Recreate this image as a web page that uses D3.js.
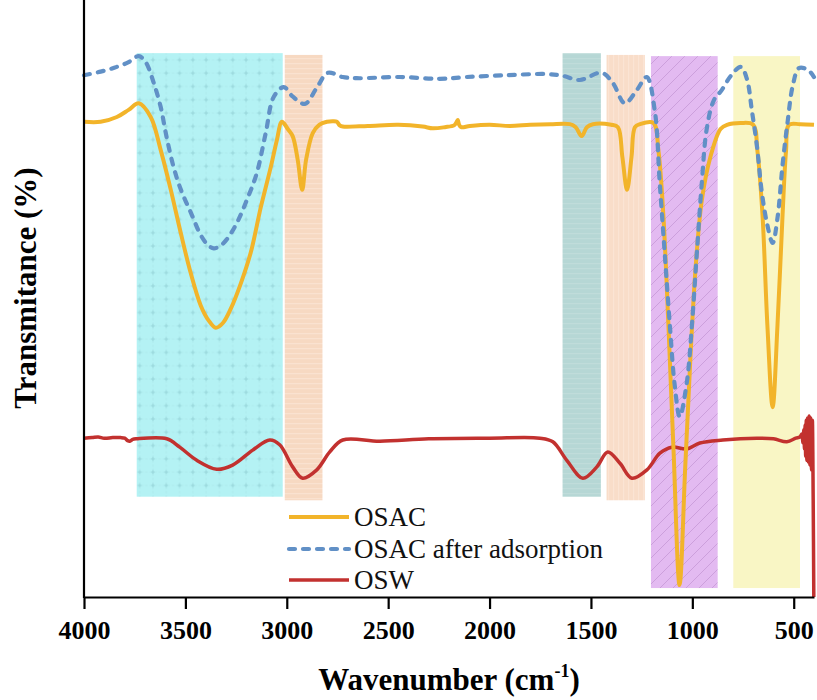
<!DOCTYPE html>
<html>
<head>
<meta charset="utf-8">
<script src="https://cdn.jsdelivr.net/npm/d3@7"></script>
<style>
  html, body { margin: 0; padding: 0; background: #fff; }
  svg { display: block; }
  .serif { font-family: "Liberation Serif", "Tinos", "Times New Roman", "DejaVu Serif", serif; }
</style>
</head>
<body>
<svg id="chart" width="817" height="700"></svg>
<script>
// FTIR spectra: wavenumber (cm-1) vs. transmittance (arbitrary offset %)
const osac = [
  [4000, 79.6], [3918, 79.6], [3838, 80.4], [3780, 81.6], [3730, 82.7], [3671, 80.4],
  [3622, 74.9], [3572, 68.2], [3523, 61.0], [3474, 54.3], [3424, 48.8], [3385, 46.3],
  [3350, 45.1], [3315, 45.9], [3276, 48.3], [3227, 52.5], [3177, 57.8], [3128, 65.3],
  [3079, 72.0], [3049, 76.5], [3024, 79.6], [2995, 78.4], [2971, 77.2], [2946, 73.2],
  [2924, 68.2], [2905, 73.2], [2872, 77.7], [2840, 79.1], [2802, 79.6], [2770, 79.7],
  [2753, 79.6], [2739, 79.0], [2724, 78.8], [2600, 78.9], [2450, 79.1], [2330, 78.8],
  [2280, 78.5], [2220, 78.7], [2175, 79.0], [2165, 79.4], [2157, 79.9], [2150, 79.1],
  [2140, 78.7], [2097, 78.9], [2000, 79.1], [1900, 78.9], [1800, 79.1], [1700, 79.2],
  [1604, 79.2], [1575, 78.7], [1546, 77.2], [1520, 78.7], [1490, 79.2], [1400, 79.1],
  [1367, 78.7], [1345, 73.7], [1322, 68.2], [1300, 73.7], [1283, 78.7], [1258, 79.2],
  [1192, 79.4], [1167, 74.7], [1143, 64.0], [1118, 45.6], [1093, 24.8], [1063, 2.0],
  [1035, 21.8], [1010, 39.7], [985, 54.6], [953, 66.5], [911, 73.7], [861, 78.4],
  [829, 79.1], [760, 79.4], [700, 79.1], [679, 74.7], [654, 64.0], [630, 45.6],
  [604, 31.8], [580, 45.6], [555, 64.0], [538, 74.7], [523, 79.1], [470, 79.2], [400, 79.1]
];

const osacAfter = [
  [4000, 87.4], [3918, 88.0], [3838, 88.8], [3780, 89.6], [3730, 90.6], [3696, 89.6],
  [3656, 86.1], [3622, 82.1], [3593, 77.1], [3558, 72.0], [3522, 68.2], [3472, 64.3],
  [3424, 60.6], [3390, 59.0], [3360, 58.4], [3325, 58.9], [3296, 59.9], [3247, 62.6],
  [3197, 66.5], [3148, 71.0], [3104, 77.7], [3064, 83.8], [3015, 85.4], [2970, 83.8],
  [2911, 82.6], [2852, 85.3], [2798, 87.8], [2724, 87.1], [2655, 86.9], [2443, 87.1],
  [2246, 86.8], [2113, 87.1], [1916, 87.4], [1718, 87.6], [1640, 87.3], [1555, 86.6],
  [1447, 87.8], [1392, 86.1], [1333, 82.7], [1274, 84.9], [1225, 87.1], [1185, 81.4],
  [1161, 69.5], [1136, 57.5], [1111, 45.6], [1087, 35.5], [1062, 30.2], [1027, 36.0],
  [1002, 45.6], [978, 57.5], [953, 69.5], [929, 78.4], [894, 83.2], [855, 84.9],
  [810, 87.3], [761, 88.8], [731, 86.8], [706, 81.4], [681, 75.4], [657, 67.7],
  [630, 62.3], [604, 59.3], [580, 63.5], [555, 72.4], [530, 79.6], [505, 85.6],
  [474, 88.6], [430, 88.3], [400, 87.1]
];

const osw = [
  [4000, 26.6], [3960, 26.7], [3930, 26.8], [3900, 26.6], [3858, 26.7], [3820, 26.7],
  [3799, 26.6], [3785, 26.2], [3774, 26.1], [3760, 26.4], [3740, 26.5], [3592, 26.5],
  [3528, 25.1], [3444, 22.9], [3346, 21.4], [3267, 22.1], [3168, 24.6], [3084, 26.3],
  [3035, 25.5], [2971, 21.8], [2922, 19.9], [2852, 21.3], [2788, 24.3], [2724, 26.3],
  [2541, 26.1], [2300, 26.5], [2000, 26.6], [1752, 26.6], [1688, 26.0], [1619, 22.9],
  [1540, 19.9], [1471, 21.8], [1417, 24.3], [1357, 22.4], [1298, 19.9], [1224, 21.3],
  [1160, 24.1], [1101, 25.1], [1027, 24.8], [963, 25.8], [850, 26.3], [682, 26.6],
  [600, 26.5], [534, 26.0], [490, 26.6], [470, 26.8], [460, 27.3], [455, 25.8],
  [450, 28.0], [447, 24.8], [444, 28.8], [441, 23.6], [438, 29.6], [435, 22.9],
  [432, 30.0], [428, 22.6], [424, 30.3], [420, 22.1], [416, 30.0], [412, 21.3],
  [408, 29.6], [404, 16.2], [401, 0]
];

// Highlighted absorption bands: [from, to] in cm-1 and vertical extent in transmittance units
const bandRanges = [[3740, 3020], [3010, 2824], [1640, 1451], [1423, 1234], [1204, 875], [798, 469]];
const bandTops = [91.1, 90.8, 91.1, 90.8, 90.6, 90.6];
const bandBottoms = [16.8, 16.2, 16.8, 16.2, 1.5, 1.5];

const xTicks = [4000, 3500, 3000, 2500, 2000, 1500, 1000, 500];
const seriesNames = ["OSAC", "OSAC after adsorption", "OSW"];

const svg = d3.select("#chart");
const W = 817, H = 700;
const m = { left: 84, right: 3, top: 0, bottom: 103 };
const plotBottom = H - m.bottom;

const x = d3.scaleLinear().domain([4000, 400]).range([m.left, W - m.right]);
const y = d3.scaleLinear().domain([0, 100]).range([plotBottom, m.top]);

// Fill patterns for the bands
const defs = svg.append("defs");

const pGrid = defs.append("pattern").attr("id", "pGrid")
  .attr("patternUnits", "userSpaceOnUse").attr("width", 13.3).attr("height", 13.3);
pGrid.append("rect").attr("width", 13.3).attr("height", 13.3).attr("fill", "#b4f2f4");
pGrid.append("path").attr("d", "M0,6.65H13.3M6.65,0V13.3")
  .attr("stroke", "#a9e6e9").attr("stroke-width", 0.6).attr("stroke-dasharray", "1.5,1.5");
pGrid.append("path").attr("d", "M4.6,6.65H8.7M6.65,4.6V8.7")
  .attr("stroke", "#98d6da").attr("stroke-width", 1);

const pHorizPeach = defs.append("pattern").attr("id", "pHorizPeach")
  .attr("patternUnits", "userSpaceOnUse").attr("width", 6).attr("height", 5);
pHorizPeach.append("rect").attr("width", 6).attr("height", 5).attr("fill", "#f7d9c2");
pHorizPeach.append("rect").attr("y", 3).attr("width", 6).attr("height", 1.3).attr("fill", "#fae2d0");

const pHorizTeal = defs.append("pattern").attr("id", "pHorizTeal")
  .attr("patternUnits", "userSpaceOnUse").attr("width", 6).attr("height", 5);
pHorizTeal.append("rect").attr("width", 6).attr("height", 5).attr("fill", "#b6d7d5");
pHorizTeal.append("rect").attr("y", 3).attr("width", 6).attr("height", 1.2).attr("fill", "#c0dcda");

const pVertPeach = defs.append("pattern").attr("id", "pVertPeach")
  .attr("patternUnits", "userSpaceOnUse").attr("width", 5).attr("height", 6);
pVertPeach.append("rect").attr("width", 5).attr("height", 6).attr("fill", "#f9ddc9");
pVertPeach.append("rect").attr("x", 3).attr("width", 1.2).attr("height", 6).attr("fill", "#fbe4d4");

const pDiag = defs.append("pattern").attr("id", "pDiag")
  .attr("patternUnits", "userSpaceOnUse").attr("width", 13).attr("height", 13);
pDiag.append("rect").attr("width", 13).attr("height", 13).attr("fill", "#e3baf1");
pDiag.append("path").attr("d", "M-3,3L3,-3M0,13L13,0M10,16L16,10")
  .attr("stroke", "#cc9fdc").attr("stroke-width", 1);

const bandFills = ["url(#pGrid)", "url(#pHorizPeach)", "url(#pHorizTeal)", "url(#pVertPeach)", "url(#pDiag)", "#f9f6c5"];

svg.append("g").selectAll("rect")
  .data(bandRanges)
  .join("rect")
  .attr("x", d => x(d[0]))
  .attr("width", d => x(d[1]) - x(d[0]))
  .attr("y", (d, i) => y(bandTops[i]))
  .attr("height", (d, i) => y(bandBottoms[i]) - y(bandTops[i]))
  .attr("fill", (d, i) => bandFills[i]);

// Spectra
const line = d3.line()
  .x(d => x(d[0]))
  .y(d => y(d[1]))
  .curve(d3.curveCatmullRom.alpha(0.5));

const styles = [
  { color: "#f2b42a", width: 4, dash: null },
  { color: "#6190c6", width: 4.2, dash: "6,8" },
  { color: "#c2312f", width: 3.5, dash: null }
];
const seriesData = [osac, osacAfter, osw];

const gLines = svg.append("g").attr("fill", "none");
[2, 0, 1].forEach(i => {
  gLines.append("path")
    .datum(seriesData[i])
    .attr("d", line)
    .attr("stroke", styles[i].color)
    .attr("stroke-width", styles[i].width)
    .attr("stroke-linejoin", "round")
    .attr("stroke-linecap", styles[i].dash ? "round" : "butt")
    .attr("stroke-dasharray", styles[i].dash);
});

// Axes
const xAxis = d3.axisBottom(x).tickValues(xTicks).tickSize(12).tickSizeOuter(0).tickFormat(d3.format("d"));
const gx = svg.append("g").attr("transform", `translate(0,${plotBottom})`).call(xAxis);
gx.attr("font-family", null).attr("font-size", null);
gx.select(".domain").attr("stroke", "#000").attr("stroke-width", 2.2);
gx.selectAll(".tick line").attr("stroke", "#000").attr("stroke-width", 2.2);
gx.selectAll(".tick text")
  .attr("class", "serif")
  .attr("fill", "#000")
  .attr("y", 24)
  .attr("dy", "0.71em")
  .style("font-weight", "bold")
  .style("font-size", "26px");

svg.append("line")
  .attr("x1", m.left).attr("x2", m.left)
  .attr("y1", 0).attr("y2", plotBottom + 1)
  .attr("stroke", "#000").attr("stroke-width", 2.2);

// Axis titles
const xt = svg.append("text")
  .attr("class", "serif")
  .attr("x", 449).attr("y", 690)
  .attr("text-anchor", "middle")
  .style("font-weight", "bold").style("font-size", "31px");
xt.append("tspan").text("Wavenumber (cm");
xt.append("tspan").attr("dy", -13).style("font-size", "18px").text("-1");
xt.append("tspan").attr("dy", 13).text(")");

svg.append("text")
  .attr("class", "serif")
  .attr("transform", "translate(36,288) rotate(-90)")
  .attr("text-anchor", "middle")
  .style("font-weight", "bold").style("font-size", "31px")
  .text("Transmitance (%)");

// Legend
const legendRows = [517, 549, 580];
const gLeg = svg.append("g");
seriesNames.forEach((name, i) => {
  gLeg.append("line")
    .attr("x1", 289).attr("x2", 349)
    .attr("y1", legendRows[i]).attr("y2", legendRows[i])
    .attr("stroke", styles[i].color)
    .attr("stroke-width", styles[i].width)
    .attr("stroke-linecap", styles[i].dash ? "round" : "butt")
    .attr("stroke-dasharray", styles[i].dash);
  gLeg.append("text")
    .attr("class", "serif")
    .attr("x", 354).attr("y", legendRows[i] + 9)
    .style("font-size", "27px")
    .attr("fill", "#111")
    .text(name);
});
</script>
</body>
</html>
